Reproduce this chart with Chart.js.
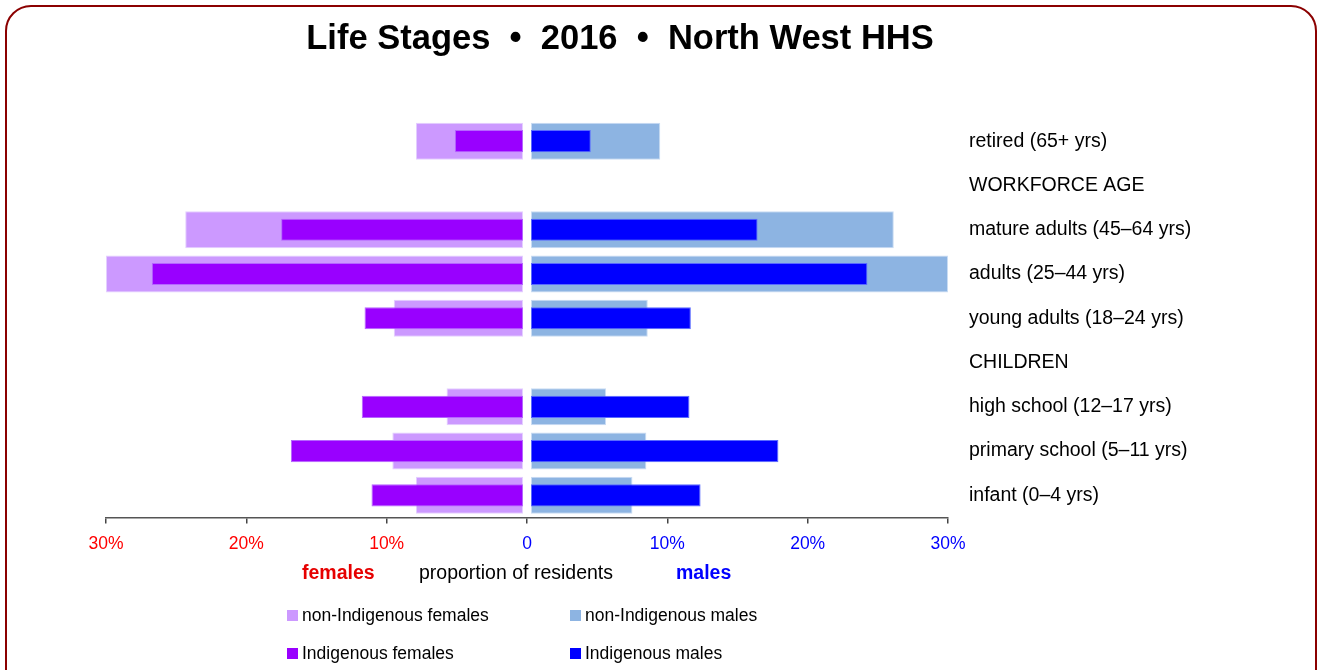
<!DOCTYPE html>
<html>
<head>
<meta charset="utf-8">
<script src="https://cdn.jsdelivr.net/npm/chart.js@4"></script>
<style>
  html, body { margin: 0; padding: 0; background: #fff; overflow: hidden; }
  body { width: 1321px; height: 670px; position: relative; font-family: 'Liberation Sans', Arial, sans-serif; }
  #frame { position: absolute; left: 5px; top: 5px; width: 1312px; height: 740px; box-sizing: border-box;
           border: 2.5px solid #8b0000; border-radius: 26px; }
  #c { position: absolute; left: 0; top: 0; }
  .t { position: absolute; white-space: pre; }
  #title { left: 0; width: 1240px; top: 17px; line-height: 40px; text-align: center; font-weight: bold; font-size: 34.5px; color: #000; }
  .axt { top: 560px; line-height: 24px; font-size: 19.5px; }
  .lg { font-size: 17.5px; line-height: 22px; color: #000; }
  .box { position: absolute; width: 11px; height: 11px; }
</style>
</head>
<body>
<div id="frame"></div>
<canvas id="c" width="1321" height="670"></canvas>
<div id="title" class="t">Life Stages  •  2016  •  North West HHS</div>
<div class="t axt" style="left:302px;color:#e60000;font-weight:bold;">females</div>
<div class="t axt" style="left:419px;color:#000;">proportion of residents</div>
<div class="t axt" style="left:676px;color:#0000ff;font-weight:bold;">males</div>
<div id="legend"></div>
<script>
// ---- data ----
const categories = [
  'retired (65+ yrs)',
  'WORKFORCE AGE',
  'mature adults (45–64 yrs)',
  'adults (25–44 yrs)',
  'young adults (18–24 yrs)',
  'CHILDREN',
  'high school (12–17 yrs)',
  'primary school (5–11 yrs)',
  'infant (0–4 yrs)'
];
const nonIndigenousFemales = [7.7, null, 24.3, 30.0, 9.3, null, 5.5, 9.4, 7.7];
const indigenousFemales    = [4.9, null, 17.4, 26.7, 11.4, null, 11.6, 16.7, 10.9];
const nonIndigenousMales   = [9.3, null, 26.1, 30.0, 8.4, null, 5.4, 8.3, 7.3];
const indigenousMales      = [4.3, null, 16.3, 24.2, 11.5, null, 11.4, 17.8, 12.2];
const tickValues = [-30, -20, -10, 0, 10, 20, 30];
const tickLabels = ['30%', '20%', '10%', '0', '10%', '20%', '30%'];
const seriesNames = ['non-Indigenous females', 'non-Indigenous males', 'Indigenous females', 'Indigenous males'];

// ---- styles ----
const colors = {
  nf: '#cc99ff', nfB: '#e4cfff',
  f:  '#9900ff', fB:  '#b566ff',
  nm: '#8db4e2', nmB: '#c9dcf3',
  m:  '#0000ff', mB:  '#5a6bff'
};
const FONT = "'Liberation Sans', Arial, sans-serif";
const GAP_EXT = 30.575; // half-plot offset so the two halves leave a small gap at zero

const ds = (label, data, axis, bg, bc, pct, order) => ({
  label, data, xAxisID: axis, backgroundColor: bg, borderColor: bc, borderWidth: 1,
  borderSkipped: false, barPercentage: pct, categoryPercentage: 1, grouped: false, order
});

new Chart(document.getElementById('c'), {
  type: 'bar',
  data: {
    labels: categories,
    datasets: [
      ds(seriesNames[0], nonIndigenousFemales, 'xf', colors.nf, colors.nfB, 0.836, 2),
      ds(seriesNames[2], indigenousFemales, 'xf', colors.f, colors.fB, 0.5, 1),
      ds(seriesNames[1], nonIndigenousMales, 'xm', colors.nm, colors.nmB, 0.836, 2),
      ds(seriesNames[3], indigenousMales, 'xm', colors.m, colors.mB, 0.5, 1)
    ]
  },
  options: {
    indexAxis: 'y',
    responsive: false,
    animation: false,
    layout: { padding: { left: 106, right: 0, top: 119, bottom: 112.5 } },
    plugins: { legend: { display: false }, tooltip: { enabled: false }, title: { display: false } },
    scales: {
      x: {
        type: 'linear', position: 'bottom', min: -30, max: 30,
        afterBuildTicks: (s) => { s.ticks = tickValues.map(v => ({ value: v })); },
        afterFit: (s) => { s.height = 40; },
        ticks: {
          padding: 10,
          autoSkip: false,
          maxRotation: 0,
          font: { family: FONT, size: 17.5 },
          color: (ctx) => (ctx.tick && ctx.tick.value < 0 ? '#ff0000' : '#0000ff'),
          callback: (v) => tickLabels[tickValues.indexOf(v)]
        },
        grid: { drawOnChartArea: false, drawTicks: true, tickLength: 6, color: '#444', lineWidth: 1.5 },
        border: { display: true, color: '#555', width: 1.5 }
      },
      xf: { type: 'linear', display: false, reverse: true, min: -GAP_EXT, max: 30 },
      xm: { type: 'linear', display: false, min: -GAP_EXT, max: 30 },
      y: {
        type: 'category', position: 'right', offset: true,
        afterFit: (s) => { s.width = 373; },
        grid: { display: false, drawTicks: false },
        border: { display: false },
        ticks: { padding: 21, color: '#000', font: { family: FONT, size: 19.5 }, autoSkip: false }
      }
    }
  }
});

// ---- legend (2 x 2) ----
const legendItems = [
  { name: seriesNames[0], color: colors.nf, x: 287, y: 615 },
  { name: seriesNames[1], color: colors.nm, x: 570, y: 615 },
  { name: seriesNames[2], color: colors.f,  x: 287, y: 653 },
  { name: seriesNames[3], color: colors.m,  x: 570, y: 653 }
];
const lg = document.getElementById('legend');
legendItems.forEach(it => {
  const b = document.createElement('div');
  b.className = 'box';
  b.style.left = it.x + 'px';
  b.style.top = (it.y - 5.5) + 'px';
  b.style.background = it.color;
  lg.appendChild(b);
  const t = document.createElement('div');
  t.className = 't lg';
  t.style.left = (it.x + 15) + 'px';
  t.style.top = (it.y - 11) + 'px';
  t.textContent = it.name;
  lg.appendChild(t);
});
</script>
</body>
</html>
